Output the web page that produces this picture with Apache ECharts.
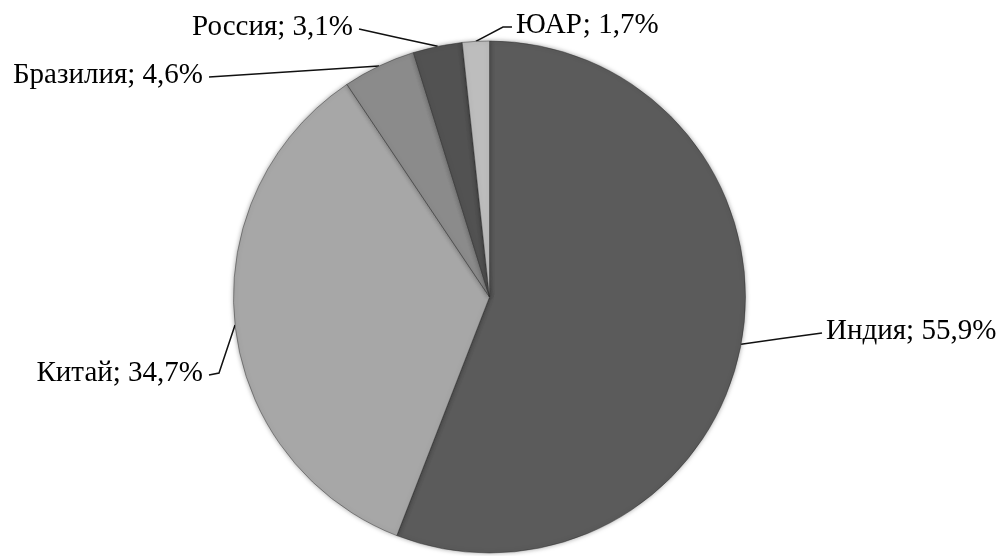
<!DOCTYPE html>
<html><head><meta charset="utf-8">
<script src="https://cdn.jsdelivr.net/npm/echarts@6/dist/echarts.min.js"></script>
<style>html,body{margin:0;padding:0;background:#fff}#c{width:1004px;height:556px}</style>
</head><body><div id="c"></div>
<script>
var categories = ['Индия', 'Китай', 'Бразилия', 'Россия', 'ЮАР'];
var values = [55.9, 34.7, 4.6, 3.1, 1.7];
var labelTexts = ['Индия; 55,9%', 'Китай; 34,7%', 'Бразилия; 4,6%', 'Россия; 3,1%', 'ЮАР; 1,7%'];
var colors = ['#5b5b5b', '#a7a7a7', '#8b8b8b', '#525252', '#bdbdbd'];
// label placement (layout only)
var labelPos = [
  {x: 826, y: 331, align: 'left'},
  {x: 203, y: 373, align: 'right'},
  {x: 203, y: 75, align: 'right'},
  {x: 353, y: 27, align: 'right'},
  {x: 516, y: 25, align: 'left'}
];
var chart = echarts.init(document.getElementById('c'));
chart.setOption({
  animation: false,
  series: [{
    type: 'pie',
    center: [489.5, 297],
    radius: [0, 256],
    startAngle: 90,
    clockwise: true,
    data: categories.map(function (c, i) {
      return {name: c, value: values[i], itemStyle: {color: colors[i]}};
    }),
    itemStyle: {borderColor: 'rgba(40,40,40,0.55)', borderWidth: 0.8, shadowBlur: 5, shadowColor: 'rgba(0,0,0,0.35)'},
    label: {
      show: true,
      formatter: function (p) { return labelTexts[p.dataIndex]; },
      fontFamily: 'Liberation Serif',
      fontSize: 29,
      color: '#000'
    },
    labelLine: {show: true, length: 10, length2: 10, lineStyle: {color: '#111', width: 1.5}},
    labelLayout: function (params) {
      var i = params.dataIndex;
      var lp = labelPos[i];
      var p0 = params.labelLinePoints ? params.labelLinePoints[0] : [0, 0];
      var endX = lp.align === 'left' ? lp.x - 4 : lp.x + 6;
      var endY = lp.y + 2;
      var pts;
      if (i === 1) {
        pts = [p0, [endX + 10, endY - 2], [endX, endY]];
      } else if (i === 4) {
        pts = [p0, [endX - 9, endY], [endX, endY]];
      } else {
        pts = [p0, [(p0[0] + endX) / 2, (p0[1] + endY) / 2], [endX, endY]];
      }
      return {x: lp.x, y: lp.y, align: lp.align, verticalAlign: 'middle', labelLinePoints: pts};
    }
  }]
});
</script></body></html>
